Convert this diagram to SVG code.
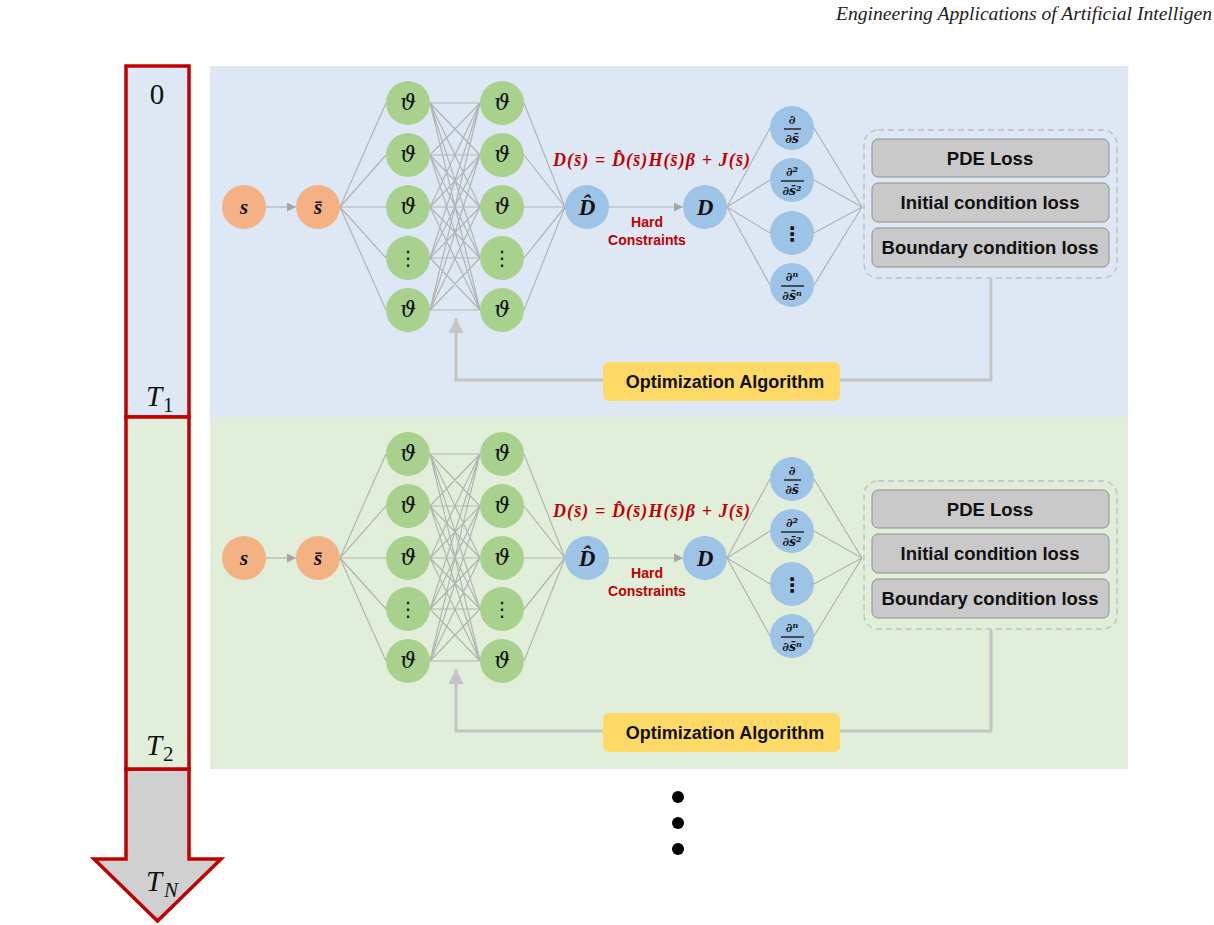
<svg xmlns="http://www.w3.org/2000/svg" width="1214" height="925" viewBox="0 0 1214 925">
<defs>
<style>
.hdr{font-family:"Liberation Serif",serif;font-style:italic;font-size:18px;fill:#222}
.tl{font-family:"Liberation Serif",serif;font-size:29px;fill:#111}
.tli{font-family:"Liberation Serif",serif;font-style:italic;font-size:29px;fill:#111}
.sub{font-family:"Liberation Serif",serif;font-size:21px;fill:#111}
.subi{font-family:"Liberation Serif",serif;font-style:italic;font-size:21px;fill:#111}
.org{fill:#f4b183}
.grn{fill:#a9d18e}
.blu{fill:#9dc3e6}
.mth{font-family:"Liberation Serif","DejaVu Serif",serif;font-style:italic;font-weight:bold;fill:#111;text-anchor:middle}
.dv{font-family:"DejaVu Serif","Liberation Serif",serif;font-style:italic;font-weight:bold;fill:#111;text-anchor:middle;font-size:12.5px}
.th{font-family:"DejaVu Serif","Liberation Serif",serif;font-style:italic;font-size:22px;fill:#111;text-anchor:middle}
.dots{font-family:"DejaVu Sans",sans-serif;font-size:20px;fill:#111;text-anchor:middle}
.red{font-family:"Liberation Sans",Arial,sans-serif;font-weight:bold;font-size:14px;fill:#c00000;text-anchor:middle}
.frm{font-family:"Liberation Serif",serif;font-style:italic;font-weight:bold;font-size:18px;fill:#c00000}
.loss{fill:#c9c9c9;stroke:#8f8f8f;stroke-width:1}
.lt{font-family:"Liberation Sans",Arial,sans-serif;font-weight:bold;font-size:18.5px;fill:#111;text-anchor:middle}
.opt{fill:#ffd966}
.ot{font-family:"Liberation Sans",Arial,sans-serif;font-weight:bold;font-size:18px;fill:#111;text-anchor:middle}
.ln{stroke:#b3b3b3;stroke-width:1.2;fill:none}
.fb{stroke:#c4c4c4;stroke-width:3;fill:none}
.dash{fill:none;stroke:#c0c0c0;stroke-width:1.5;stroke-dasharray:6 4}
.bar{stroke:#111;stroke-width:1.3}
</style>
<marker id="ah" viewBox="0 0 10 10" refX="10" refY="5" markerWidth="9" markerHeight="9" markerUnits="userSpaceOnUse" orient="auto"><path d="M0,0 L10,5 L0,10 z" fill="#a6a6a6"/></marker>
<marker id="ahb" viewBox="0 0 10 10" refX="10" refY="5" markerWidth="5" markerHeight="5" orient="auto"><path d="M0,0 L10,5 L0,10 z" fill="#c4c4c4"/></marker>
</defs>
<rect width="1214" height="925" fill="#ffffff"/>
<text class="hdr" x="836" y="20" textLength="376" lengthAdjust="spacingAndGlyphs">Engineering Applications of Artificial Intelligen</text>

<!-- panels -->
<rect x="210" y="66" width="918" height="351" fill="#dde8f4"/>
<rect x="210" y="417" width="918" height="352" fill="#e1efda"/>

<!-- time axis -->
<g id="timeaxis">
<path d="M126,769 L189,769 L189,859 L221,859 L157.5,921 L94,859 L126,859 Z" fill="#d0d0d0" stroke="#c00000" stroke-width="3.5" stroke-linejoin="miter"/>
<rect x="126" y="66" width="63" height="351" fill="#dde8f4" stroke="#c00000" stroke-width="3.5"/>
<rect x="126" y="417" width="63" height="352" fill="#e1efda" stroke="#c00000" stroke-width="3.5"/>
<text class="tl" x="157" y="104" text-anchor="middle">0</text>
<text class="tli" x="146" y="406">T</text><text class="sub" x="163" y="412">1</text>
<text class="tli" x="146" y="755">T</text><text class="sub" x="163" y="761">2</text>
<text class="tli" x="146" y="891">T</text><text class="subi" x="164" y="897">N</text>
</g>

<!-- dots -->
<g id="more">
<circle cx="678" cy="797" r="6" fill="#000"/>
<circle cx="678" cy="823" r="6" fill="#000"/>
<circle cx="678" cy="849" r="6" fill="#000"/>
</g>

<!-- ================= TOP PANEL ================= -->
<g id="connectors-top" transform="translate(0,0)">
<line class="ln" x1="266" y1="207" x2="296" y2="207" marker-end="url(#ah)"/>
<line class="ln" x1="340" y1="207" x2="386" y2="103"/>
<line class="ln" x1="340" y1="207" x2="386" y2="155"/>
<line class="ln" x1="340" y1="207" x2="386" y2="207"/>
<line class="ln" x1="340" y1="207" x2="386" y2="258"/>
<line class="ln" x1="340" y1="207" x2="386" y2="310"/>
<path class="ln" d="M430,103L480,103M430,103L480,155M430,103L480,207M430,103L480,258M430,103L480,310
M430,155L480,103M430,155L480,155M430,155L480,207M430,155L480,258M430,155L480,310
M430,207L480,103M430,207L480,155M430,207L480,207M430,207L480,258M430,207L480,310
M430,258L480,103M430,258L480,155M430,258L480,207M430,258L480,258M430,258L480,310
M430,310L480,103M430,310L480,155M430,310L480,207M430,310L480,258M430,310L480,310"/>
<path class="ln" d="M524,103L565,207M524,155L565,207M524,207L565,207M524,258L565,207M524,310L565,207"/>
<line class="ln" x1="609" y1="207" x2="683" y2="207" marker-end="url(#ah)"/>
<path class="ln" d="M727,207L770,128M727,207L770,180M727,207L770,233M727,207L770,285"/>
<path class="ln" d="M814,128L862,207M814,180L862,207M814,233L862,207M814,285L862,207"/>
<polyline class="fb" points="991,279 991,380 456,380 456,318" marker-end="url(#ahb)"/>
</g>

<g id="s-top"><circle class="org" cx="244" cy="207" r="22"/><text class="mth" x="244" y="214" font-size="21">s</text></g>
<g id="sbar-top"><circle class="org" cx="318" cy="207" r="22"/><text class="mth" x="318" y="214" font-size="21">s̄</text></g>

<g id="h1-1-top"><circle class="grn" cx="408" cy="103" r="22"/><text class="th" x="408" y="110">ϑ</text></g>
<g id="h1-2-top"><circle class="grn" cx="408" cy="155" r="22"/><text class="th" x="408" y="162">ϑ</text></g>
<g id="h1-3-top"><circle class="grn" cx="408" cy="207" r="22"/><text class="th" x="408" y="214">ϑ</text></g>
<g id="h1-4-top"><circle class="grn" cx="408" cy="258" r="22"/><text class="dots" x="408" y="265">⋮</text></g>
<g id="h1-5-top"><circle class="grn" cx="408" cy="310" r="22"/><text class="th" x="408" y="317">ϑ</text></g>
<g id="h2-1-top"><circle class="grn" cx="502" cy="103" r="22"/><text class="th" x="502" y="110">ϑ</text></g>
<g id="h2-2-top"><circle class="grn" cx="502" cy="155" r="22"/><text class="th" x="502" y="162">ϑ</text></g>
<g id="h2-3-top"><circle class="grn" cx="502" cy="207" r="22"/><text class="th" x="502" y="214">ϑ</text></g>
<g id="h2-4-top"><circle class="grn" cx="502" cy="258" r="22"/><text class="dots" x="502" y="265">⋮</text></g>
<g id="h2-5-top"><circle class="grn" cx="502" cy="310" r="22"/><text class="th" x="502" y="317">ϑ</text></g>

<g id="dhat-top"><circle class="blu" cx="587" cy="207" r="22"/><text class="mth" x="587" y="215" font-size="23">D̂</text></g>
<g id="d-top"><circle class="blu" cx="705" cy="207" r="22"/><text class="mth" x="705" y="215" font-size="23">D</text></g>
<g id="formula-top"><text class="frm" x="553" y="166" textLength="197" lengthAdjust="spacing">D(s̄) = D̂(s̄)H(s̄)β + J(s̄)</text></g>
<g id="hard-top"><text class="red" x="647" y="227">Hard</text><text class="red" x="647" y="245">Constraints</text></g>

<g id="d1-top"><circle class="blu" cx="792" cy="128" r="22"/><text class="dv" x="792" y="124">∂</text><line class="bar" x1="784" y1="129" x2="801" y2="129"/><text class="dv" x="792" y="143">∂s̄</text></g>
<g id="d2-top"><circle class="blu" cx="792" cy="180" r="22"/><text class="dv" x="792" y="176">∂²</text><line class="bar" x1="781" y1="181" x2="804" y2="181"/><text class="dv" x="792" y="195">∂s̄²</text></g>
<g id="d3-top"><circle class="blu" cx="792" cy="233" r="22"/><text class="dots" x="792" y="241" font-weight="bold">⋮</text></g>
<g id="dn-top"><circle class="blu" cx="792" cy="285" r="22"/><text class="dv" x="792" y="281">∂ⁿ</text><line class="bar" x1="781" y1="286" x2="804" y2="286"/><text class="dv" x="792" y="300">∂s̄ⁿ</text></g>

<g id="losses-top">
<rect class="dash" x="864" y="130" width="253" height="148" rx="14"/>
<rect class="loss" x="872" y="139" width="237" height="38" rx="6"/><text class="lt" x="990" y="164.5">PDE Loss</text>
<rect class="loss" x="872" y="183" width="237" height="39" rx="6"/><text class="lt" x="990" y="209">Initial condition loss</text>
<rect class="loss" x="872" y="228" width="237" height="39" rx="6"/><text class="lt" x="990" y="254">Boundary condition loss</text>
</g>
<g id="opt-top"><rect class="opt" x="603" y="362" width="237" height="39" rx="6"/><text class="ot" x="725" y="388">Optimization Algorithm</text></g>

<!-- ================= BOTTOM PANEL ================= -->
<g id="connectors-bottom" transform="translate(0,351)">
<line class="ln" x1="266" y1="207" x2="296" y2="207" marker-end="url(#ah)"/>
<line class="ln" x1="340" y1="207" x2="386" y2="103"/>
<line class="ln" x1="340" y1="207" x2="386" y2="155"/>
<line class="ln" x1="340" y1="207" x2="386" y2="207"/>
<line class="ln" x1="340" y1="207" x2="386" y2="258"/>
<line class="ln" x1="340" y1="207" x2="386" y2="310"/>
<path class="ln" d="M430,103L480,103M430,103L480,155M430,103L480,207M430,103L480,258M430,103L480,310
M430,155L480,103M430,155L480,155M430,155L480,207M430,155L480,258M430,155L480,310
M430,207L480,103M430,207L480,155M430,207L480,207M430,207L480,258M430,207L480,310
M430,258L480,103M430,258L480,155M430,258L480,207M430,258L480,258M430,258L480,310
M430,310L480,103M430,310L480,155M430,310L480,207M430,310L480,258M430,310L480,310"/>
<path class="ln" d="M524,103L565,207M524,155L565,207M524,207L565,207M524,258L565,207M524,310L565,207"/>
<line class="ln" x1="609" y1="207" x2="683" y2="207" marker-end="url(#ah)"/>
<path class="ln" d="M727,207L770,128M727,207L770,180M727,207L770,233M727,207L770,285"/>
<path class="ln" d="M814,128L862,207M814,180L862,207M814,233L862,207M814,285L862,207"/>
<polyline class="fb" points="991,279 991,380 456,380 456,318" marker-end="url(#ahb)"/>
</g>

<g id="s-bottom" transform="translate(0,351)"><circle class="org" cx="244" cy="207" r="22"/><text class="mth" x="244" y="214" font-size="21">s</text></g>
<g id="sbar-bottom" transform="translate(0,351)"><circle class="org" cx="318" cy="207" r="22"/><text class="mth" x="318" y="214" font-size="21">s̄</text></g>

<g id="h1-1-bottom" transform="translate(0,351)"><circle class="grn" cx="408" cy="103" r="22"/><text class="th" x="408" y="110">ϑ</text></g>
<g id="h1-2-bottom" transform="translate(0,351)"><circle class="grn" cx="408" cy="155" r="22"/><text class="th" x="408" y="162">ϑ</text></g>
<g id="h1-3-bottom" transform="translate(0,351)"><circle class="grn" cx="408" cy="207" r="22"/><text class="th" x="408" y="214">ϑ</text></g>
<g id="h1-4-bottom" transform="translate(0,351)"><circle class="grn" cx="408" cy="258" r="22"/><text class="dots" x="408" y="265">⋮</text></g>
<g id="h1-5-bottom" transform="translate(0,351)"><circle class="grn" cx="408" cy="310" r="22"/><text class="th" x="408" y="317">ϑ</text></g>
<g id="h2-1-bottom" transform="translate(0,351)"><circle class="grn" cx="502" cy="103" r="22"/><text class="th" x="502" y="110">ϑ</text></g>
<g id="h2-2-bottom" transform="translate(0,351)"><circle class="grn" cx="502" cy="155" r="22"/><text class="th" x="502" y="162">ϑ</text></g>
<g id="h2-3-bottom" transform="translate(0,351)"><circle class="grn" cx="502" cy="207" r="22"/><text class="th" x="502" y="214">ϑ</text></g>
<g id="h2-4-bottom" transform="translate(0,351)"><circle class="grn" cx="502" cy="258" r="22"/><text class="dots" x="502" y="265">⋮</text></g>
<g id="h2-5-bottom" transform="translate(0,351)"><circle class="grn" cx="502" cy="310" r="22"/><text class="th" x="502" y="317">ϑ</text></g>

<g id="dhat-bottom" transform="translate(0,351)"><circle class="blu" cx="587" cy="207" r="22"/><text class="mth" x="587" y="215" font-size="23">D̂</text></g>
<g id="d-bottom" transform="translate(0,351)"><circle class="blu" cx="705" cy="207" r="22"/><text class="mth" x="705" y="215" font-size="23">D</text></g>
<g id="formula-bottom" transform="translate(0,351)"><text class="frm" x="553" y="166" textLength="197" lengthAdjust="spacing">D(s̄) = D̂(s̄)H(s̄)β + J(s̄)</text></g>
<g id="hard-bottom" transform="translate(0,351)"><text class="red" x="647" y="227">Hard</text><text class="red" x="647" y="245">Constraints</text></g>

<g id="d1-bottom" transform="translate(0,351)"><circle class="blu" cx="792" cy="128" r="22"/><text class="dv" x="792" y="124">∂</text><line class="bar" x1="784" y1="129" x2="801" y2="129"/><text class="dv" x="792" y="143">∂s̄</text></g>
<g id="d2-bottom" transform="translate(0,351)"><circle class="blu" cx="792" cy="180" r="22"/><text class="dv" x="792" y="176">∂²</text><line class="bar" x1="781" y1="181" x2="804" y2="181"/><text class="dv" x="792" y="195">∂s̄²</text></g>
<g id="d3-bottom" transform="translate(0,351)"><circle class="blu" cx="792" cy="233" r="22"/><text class="dots" x="792" y="241" font-weight="bold">⋮</text></g>
<g id="dn-bottom" transform="translate(0,351)"><circle class="blu" cx="792" cy="285" r="22"/><text class="dv" x="792" y="281">∂ⁿ</text><line class="bar" x1="781" y1="286" x2="804" y2="286"/><text class="dv" x="792" y="300">∂s̄ⁿ</text></g>

<g id="losses-bottom" transform="translate(0,351)">
<rect class="dash" x="864" y="130" width="253" height="148" rx="14"/>
<rect class="loss" x="872" y="139" width="237" height="38" rx="6"/><text class="lt" x="990" y="164.5">PDE Loss</text>
<rect class="loss" x="872" y="183" width="237" height="39" rx="6"/><text class="lt" x="990" y="209">Initial condition loss</text>
<rect class="loss" x="872" y="228" width="237" height="39" rx="6"/><text class="lt" x="990" y="254">Boundary condition loss</text>
</g>
<g id="opt-bottom" transform="translate(0,351)"><rect class="opt" x="603" y="362" width="237" height="39" rx="6"/><text class="ot" x="725" y="388">Optimization Algorithm</text></g>
</svg>
